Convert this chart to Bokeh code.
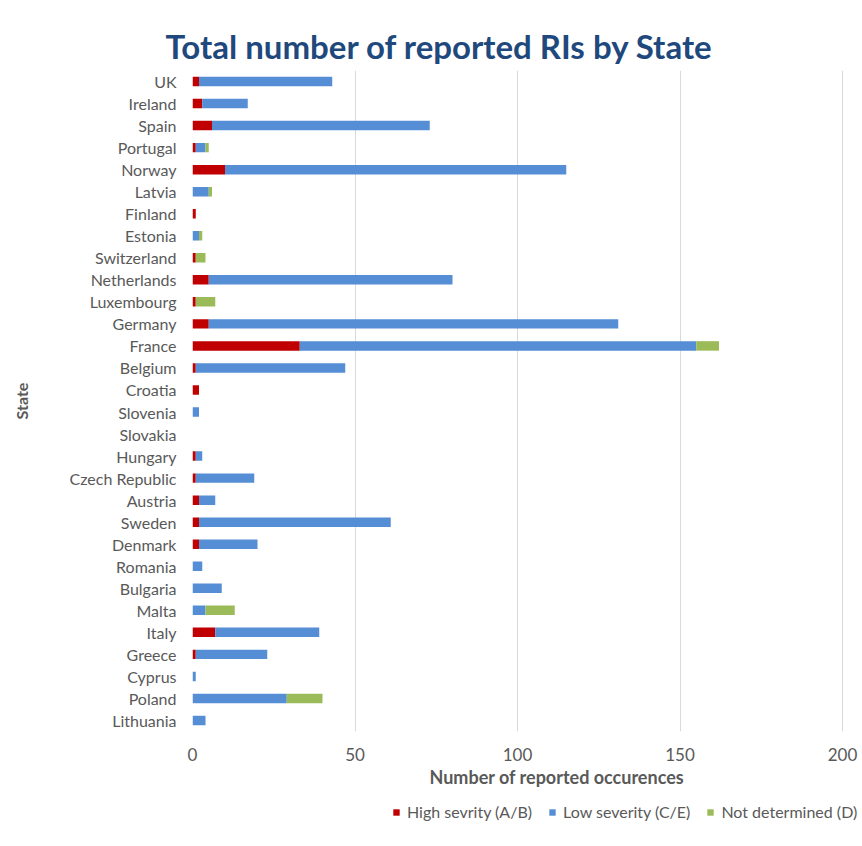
from bokeh.plotting import figure
from bokeh.layouts import column
from bokeh.models import ColumnDataSource, Legend, LegendItem, FixedTicker, FactorRange, Range1d, Title
from bokeh.embed import file_html
from bokeh.resources import INLINE

states = ["UK", "Ireland", "Spain", "Portugal", "Norway", "Latvia", "Finland", "Estonia",
          "Switzerland", "Netherlands", "Luxembourg", "Germany", "France", "Belgium", "Croatia",
          "Slovenia", "Slovakia", "Hungary", "Czech Republic", "Austria", "Sweden", "Denmark",
          "Romania", "Bulgaria", "Malta", "Italy", "Greece", "Cyprus", "Poland", "Lithuania"]
high = [2, 3, 6, 1, 10, 0, 1, 0, 1, 5, 1, 5, 33, 1, 2, 0, 0, 1, 1, 2, 2, 2, 0, 0, 0, 7, 1, 0, 0, 0]
low = [41, 14, 67, 3, 105, 5, 0, 2, 0, 75, 0, 126, 122, 46, 0, 2, 0, 2, 18, 5, 59, 18, 3, 9, 4, 32, 22, 1, 29, 4]
notdet = [0, 0, 0, 1, 0, 1, 0, 1, 3, 0, 6, 0, 7, 0, 0, 0, 0, 0, 0, 0, 0, 0, 0, 0, 9, 0, 0, 0, 11, 0]
series_labels = ["High sevrity (A/B)", "Low severity (C/E)", "Not determined (D)"]
colors = ["#C00000", "#558ED5", "#9BBB59"]
x_ticks = [0, 50, 100, 150, 200]

FONT = "Lato"
GRAY = "#595959"

src = ColumnDataSource(dict(state=states, high=high, low=low, nd=notdet))

p = figure(width=862, height=791, output_backend="svg", toolbar_location=None,
           y_range=FactorRange(*list(reversed(states)), range_padding=0),
           x_range=Range1d(0, 206.15),
           title="Total number of reported RIs by State")
p.min_border_left = 192
p.min_border_right = 0
p.min_border_bottom = 60
p.min_border_top = 70
p.outline_line_color = None

p.title.align = "left"
p.title.offset = -27
p.title.text_font = FONT
p.title.text_font_size = "33px"
p.title.text_font_style = "bold"
p.title.text_color = "#1F497D"

rs = p.hbar_stack(["high", "low", "nd"], y="state", height=0.43, color=colors,
                  line_color=None, source=src)

p.ygrid.grid_line_color = None
p.xgrid.grid_line_color = "#D9D9D9"
p.xgrid.ticker = FixedTicker(ticks=x_ticks)
p.xaxis.ticker = FixedTicker(ticks=x_ticks)

for ax in (p.xaxis[0], p.yaxis[0]):
    ax.axis_line_color = None
    ax.major_tick_line_color = None
    ax.minor_tick_line_color = None
    ax.major_label_text_font = FONT
    ax.major_label_text_font_size = "16px"
    ax.major_label_text_color = GRAY
    ax.axis_label_text_font = FONT
    ax.axis_label_text_font_style = "bold"
    ax.axis_label_text_font_size = "16px"
    ax.axis_label_text_color = GRAY

p.xaxis.major_label_text_font_size = "17px"
p.yaxis.axis_label = "State"
p.xaxis.major_label_standoff = 10
p.yaxis.major_label_standoff = 10
p.yaxis.axis_label_standoff = 36

xtitle = Title(text="Number of reported occurences", align="left", offset=237,
               text_font=FONT, text_font_size="18px", text_font_style="bold",
               text_color=GRAY, standoff=0)
p.add_layout(xtitle, "below")

# Legend strip below the chart (its renderers sit outside the visible range)
lg = figure(width=862, height=40, output_backend="svg", toolbar_location=None,
            x_range=Range1d(-2, -1), y_range=FactorRange(*states))
lg.min_border = 0
lg.outline_line_color = None
lg.axis.visible = False
lg.grid.visible = False
lrs = lg.hbar_stack(["high", "low", "nd"], y="state", height=0.43, color=colors,
                    line_color=None, source=src)
legend = Legend(items=[LegendItem(label=series_labels[i], renderers=[lrs[i]]) for i in range(3)],
                orientation="horizontal", location=(200, 10))
legend.border_line_color = None
legend.background_fill_alpha = 0
legend.label_text_font = FONT
legend.label_text_font_size = "16px"
legend.label_text_color = GRAY
legend.glyph_width = 8
legend.glyph_height = 8
legend.spacing = 16
legend.label_standoff = 7
legend.padding = 0
legend.margin = 0
lg.add_layout(legend, "center")

open("out.html", "w").write(file_html(column(p, lg), INLINE))
